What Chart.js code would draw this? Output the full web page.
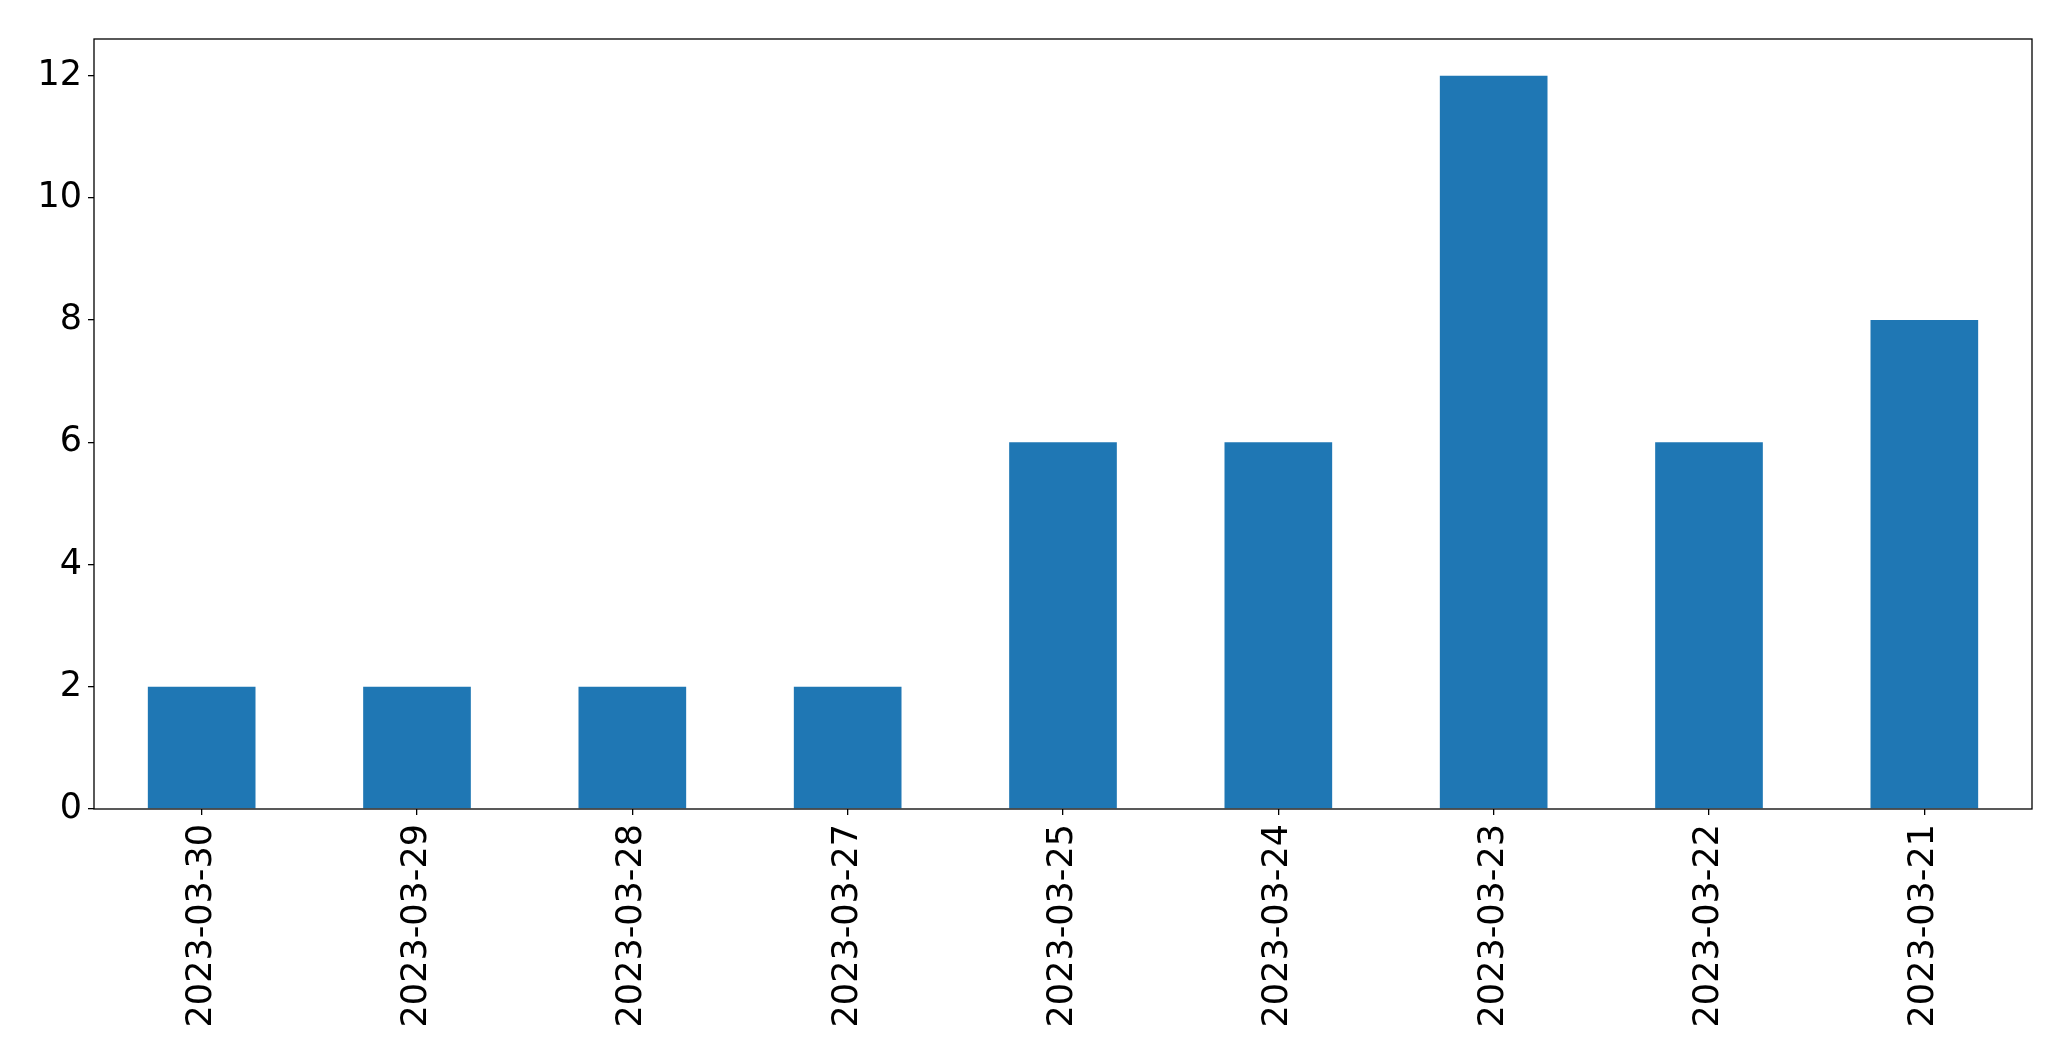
<!DOCTYPE html>
<html>
<head>
<meta charset="utf-8">
<script src="https://cdn.jsdelivr.net/npm/chart.js@4/dist/chart.umd.min.js"></script>
<style>
  html, body { margin: 0; padding: 0; background: #fff; }
  #wrap { width: 2071px; height: 1061px; }
</style>
</head>
<body>
<div id="wrap"><canvas id="chart"></canvas></div>
<script>
// data
const dates = ["2023-03-30", "2023-03-29", "2023-03-28", "2023-03-27", "2023-03-25",
               "2023-03-24", "2023-03-23", "2023-03-22", "2023-03-21"];
const counts = [2, 2, 2, 2, 6, 6, 12, 6, 8];
const yTicks = [0, 2, 4, 6, 8, 10, 12];
const yMax = 12.6;

// full box around the plot area
const frame = {
  id: "frame",
  afterDraw(chart) {
    const { ctx, chartArea: a } = chart;
    ctx.save();
    ctx.strokeStyle = "#000";
    ctx.lineWidth = 1.3;
    ctx.strokeRect(a.left, a.top, a.right - a.left, a.bottom - a.top);
    ctx.restore();
  }
};

const font = { family: "'DejaVu Sans'", size: 35 };

new Chart(document.getElementById("chart"), {
  type: "bar",
  data: {
    labels: dates,
    datasets: [{ data: counts, backgroundColor: "#1f77b4", categoryPercentage: 1, barPercentage: 0.5 }]
  },
  options: {
    responsive: true,
    maintainAspectRatio: false,
    animation: false,
    layout: { padding: { top: 39, right: 39, left: 0, bottom: 0 } },
    plugins: { legend: { display: false }, tooltip: { enabled: false } },
    scales: {
      x: {
        offset: true,
        grid: { offset: false, drawOnChartArea: false, drawTicks: true, tickLength: 6, color: "#000", lineWidth: 1.3 },
        border: { display: false },
        ticks: { color: "#000", font, minRotation: 90, maxRotation: 90, padding: 9, autoSkip: false },
        afterFit(s) { s.height = 252; }
      },
      y: {
        min: 0,
        max: yMax,
        grid: { drawOnChartArea: false, drawTicks: true, tickLength: 6, color: "#000", lineWidth: 1.3 },
        border: { display: false },
        ticks: { color: "#000", font, padding: 6 },
        afterBuildTicks(s) { s.ticks = yTicks.map(v => ({ value: v })); },
        afterFit(s) { s.width = 94; }
      }
    }
  },
  plugins: [frame]
});
</script>
</body>
</html>
